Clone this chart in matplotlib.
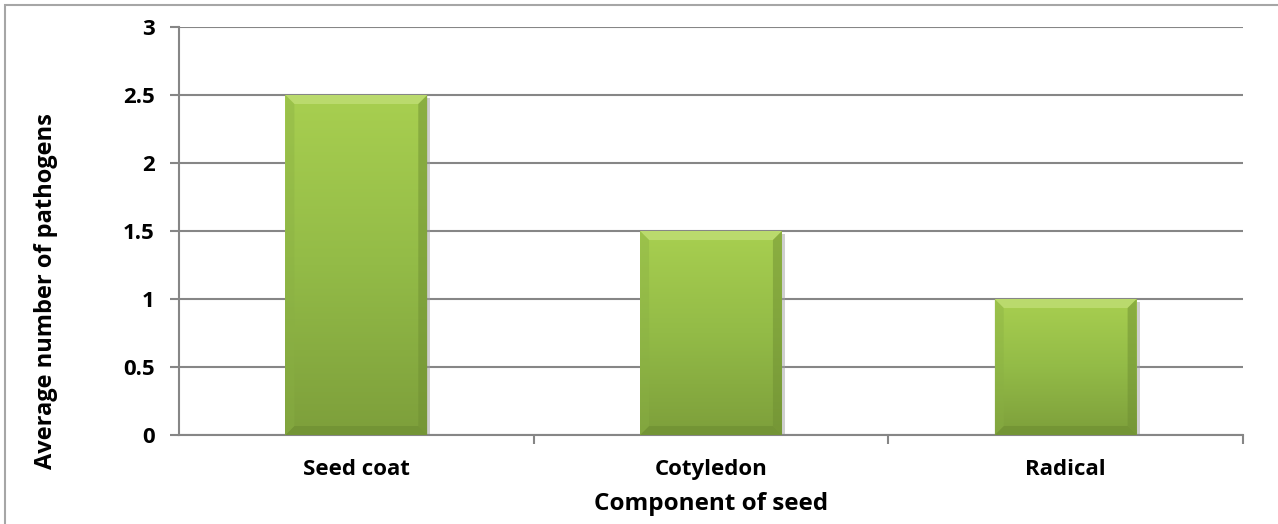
import matplotlib
matplotlib.use("Agg")
import matplotlib.pyplot as plt
import numpy as np
from matplotlib.patches import Rectangle, Polygon
from matplotlib.colors import LinearSegmentedColormap

categories = ["Seed coat", "Cotyledon", "Radical"]
values = [2.5, 1.5, 1.0]
yticks = [0, 0.5, 1, 1.5, 2, 2.5, 3]
yticklabels = ["0", "0.5", "1", "1.5", "2", "2.5", "3"]

W, H = 1278, 524
fig = plt.figure(figsize=(W / 100, H / 100), dpi=100)
plt.rcParams['font.family'] = ['Open Sans', 'DejaVu Sans']

# outer chart border (cropped at right/bottom)
fig.patches.append(Rectangle((5 / W, -0.05), 1.2, (H - 5) / H + 0.05, transform=fig.transFigure,
                             fill=False, edgecolor="#a6a6a6", linewidth=1.5, zorder=0))

left, right, top, bottom = 179, 1243, 27, 435
ax = fig.add_axes([left / W, 1 - bottom / H, (right - left) / W, (bottom - top) / H])
ax.set_xlim(-0.5, len(categories) - 0.5)
ax.set_ylim(0, 3)

for s in ["top", "right"]:
    ax.spines[s].set_visible(False)
for s in ["left", "bottom"]:
    ax.spines[s].set_color("#868686")
    ax.spines[s].set_linewidth(1.5)

ax.set_yticks(yticks)
ax.set_yticklabels(yticklabels)
ax.yaxis.grid(True, color="#868686", linewidth=1.5)
ax.set_axisbelow(True)
ax.tick_params(axis="y", direction="out", length=6.5, width=1.5, color="#868686", pad=11, labelsize=16)

ax.set_xticks(range(len(categories)))
ax.set_xticklabels(categories, fontweight="bold")
ax.set_xticks(np.arange(len(categories)) + 0.5, minor=True)
ax.tick_params(axis="x", which="major", length=0, pad=17, labelsize=16)
ax.tick_params(axis="x", which="minor", direction="out", length=6.5, width=1.5, color="#868686")
for lab in ax.get_yticklabels():
    lab.set_fontweight("bold")

ax.set_xlabel("Component of seed", fontsize=17.5, fontweight="bold", labelpad=9)
ax.set_ylabel("Average number of pathogens", fontsize=17, fontweight="bold")
ax.yaxis.set_label_coords((58 - left) / (right - left), (bottom - 291) / (bottom - top))

cmap = LinearSegmentedColormap.from_list("g", ["#7d9f3b", "#93bb47", "#a8cf50"])
bw = 0.4
px_x = (right - left) / 3.0
px_y = (bottom - top) / 3.0
bx = 9 / px_x
by = 9 / px_y
grad = np.linspace(0, 1, 256).reshape(-1, 1)
for i, v in enumerate(values):
    x0, x1 = i - bw / 2, i + bw / 2
    # shadow
    ax.add_patch(Rectangle((x0 + 3 / px_x, 0.0), bw, v - 3 / px_y, facecolor="#a0a0a0",
                           alpha=0.5, edgecolor="none", zorder=2))
    ax.imshow(grad, extent=(x0, x1, 0, v), origin="lower", cmap=cmap, aspect="auto",
              zorder=3, interpolation="bilinear")
    # bevels
    ax.add_patch(Polygon([(x0, v), (x1, v), (x1 - bx, v - by), (x0 + bx, v - by)],
                         closed=True, facecolor="#c3e07a", alpha=0.7, edgecolor="none", zorder=4))
    ax.add_patch(Polygon([(x0, 0), (x1, 0), (x1 - bx, by), (x0 + bx, by)],
                         closed=True, facecolor="#6a8a30", alpha=0.5, edgecolor="none", zorder=4))
    ax.add_patch(Polygon([(x0, 0), (x0, v), (x0 + bx, v - by), (x0 + bx, by)],
                         closed=True, facecolor="#8ab044", alpha=0.4, edgecolor="none", zorder=4))
    ax.add_patch(Polygon([(x1, 0), (x1, v), (x1 - bx, v - by), (x1 - bx, by)],
                         closed=True, facecolor="#6f8f33", alpha=0.5, edgecolor="none", zorder=4))

ax.set_xlim(-0.5, len(categories) - 0.5)
ax.set_ylim(0, 3)

fig.savefig("out.png", dpi=100)
